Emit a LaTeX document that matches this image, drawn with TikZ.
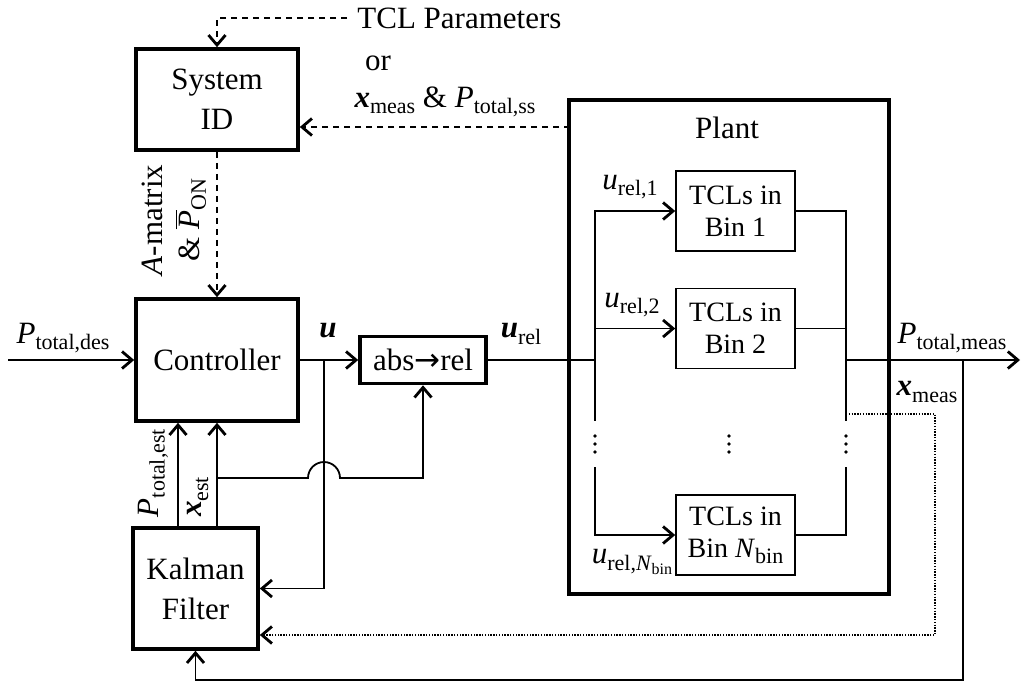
\documentclass[tikz,border=0pt]{standalone}
\usepackage{fontspec}
\setmainfont{Liberation Serif}
\newfontfamily\arrowfont{DejaVu Sans}
\usetikzlibrary{arrows.meta}
\newcommand{\sbs}[1]{\raisebox{-0.45ex}{\fontsize{11}{12}\selectfont #1}}
\newcommand{\bit}[1]{\textbf{\textit{#1}}}

\begin{document}
\begin{tikzpicture}[x=0.5pt,y=-0.5pt,font=\fontsize{15.5}{20}\selectfont]
	\tikzstyle{block} = [draw=black,line width=1.8pt,align=center,inner sep=0pt]
	\tikzstyle{bin} = [draw=black,line width=0.8pt,align=center,inner sep=0pt,minimum width=59.5pt,minimum height=40pt,font=\fontsize{14}{16}\selectfont]
	\tikzstyle{lbl} = [inner sep=0pt]
	\tikzstyle{wire} = [line width=0.9pt]
	\tikzstyle{arr} = [wire,-{Straight Barb[length=5pt,width=8.5pt,line width=1.4pt]}]
	\tikzstyle{dasharr} = [arr,dash pattern=on 3pt off 2.5pt]
	\tikzstyle{dotarr} = [arr,dash pattern=on 0.7pt off 0.7pt]
	\useasboundingbox (0,0) rectangle (1021,681);
	\node[block,minimum width=81pt,minimum height=50.5pt] (sysid) at (217,99.5) {System\\ID};
	\node[block,minimum width=81pt,minimum height=61pt] (ctrl) at (217,360) {Controller};
	\node[block,minimum width=62.5pt,minimum height=60.5pt] (kalman) at (195.5,588.5) {Kalman\\Filter};
	\node[block,minimum width=63pt,minimum height=23.5pt] (absrel) at (423,360) {abs{\arrowfont →}rel};
	\node[block,minimum width=160pt,minimum height=247pt] (plant) at (729,347) {};
	\node[lbl] (planttxt) at (727,128) {Plant};
	\node[bin] (bin1) at (735.5,211) {TCLs in\\Bin 1};
	\node[bin] (bin2) at (735.5,328.5) {TCLs in\\Bin 2};
	\node[bin] (binN) at (735.5,535) {TCLs in\\Bin \textit{N}\sbs{bin}};
	\fill (595,436) circle (0.9pt) (595,444) circle (0.9pt) (595,452) circle (0.9pt);
	\fill (729,436) circle (0.9pt) (729,444) circle (0.9pt) (729,452) circle (0.9pt);
	\fill (846,436) circle (0.9pt) (846,444) circle (0.9pt) (846,452) circle (0.9pt);
	\node[lbl,anchor=west,inner xsep=5pt] (tcltxt) at (347,18) {TCL Parameters};
	\node[lbl] (ortxt) at (378,63) {or};
	\node[lbl] (meastxt) at (445,102) {\bit{x}\sbs{meas} \& \textit{P}\sbs{total,ss}};
	\node[lbl,rotate=90,align=center,font=\fontsize{15.5}{18.5}\selectfont] (amat) at (174,220) {\textit{A}-matrix\\\& $\overline{\mbox{\textit{P}}}$\sbs{ON}};
	\node[lbl] (pdes) at (63,338) {\textit{P}\sbs{total,des}};
	\node[lbl] (ulbl) at (328,331) {\bit{u}};
	\node[lbl] (urel) at (521,334) {\bit{u}\sbs{rel}};
	\node[lbl] (pmeas) at (952,338) {\textit{P}\sbs{total,meas}};
	\node[lbl] (xmeas) at (927,392) {\bit{x}\sbs{meas}};
	\node[lbl,rotate=90] (pest) at (153,473) {\textit{P}\sbs{total,est}};
	\node[lbl,rotate=90] (xestl) at (198,497) {\bit{x}\sbs{est}};
	\node[lbl] (urel1) at (630,187) {\textit{u}\sbs{rel,1}};
	\node[lbl] (urel2) at (632,305) {\textit{u}\sbs{rel,2}};
	\node[lbl] (urelN) at (632,562) {\textit{u}\sbs{rel,\textit{N}\raisebox{-0.4ex}{\fontsize{8}{9}\selectfont bin}}};
	\coordinate (pin) at (8,360);
	\coordinate (ujoin) at (324,360);
	\coordinate (pestx) at (178,0);
	\coordinate (xest) at (217,478);
	\coordinate (hop) at (308,478);
	\coordinate (lsplit) at (595,360);
	\coordinate (rsplit) at (846,360);
	\coordinate (lgapa) at (595,421);
	\coordinate (lgapb) at (595,467);
	\coordinate (rgapa) at (846,421);
	\coordinate (rgapb) at (846,467);
	\coordinate (pout) at (1020,360);
	\coordinate (fbsplit) at (963,360);
	\coordinate (fbbot) at (963,680);
	\coordinate (dotsrc) at (846,414);
	\coordinate (dotbot) at (935,635);
	\coordinate (idsrc) at (570,127);
	\draw[arr] (pin) -- (ctrl.west);
	\draw[arr] (ctrl.east) -- (absrel.west);
	\draw[arr] (ujoin) |- (kalman.east);
	\draw[arr] (pestx |- kalman.north) -- (pestx |- ctrl.south);
	\draw[arr] (ctrl.south |- kalman.north) -- (ctrl.south);
	\draw[arr] (xest) -- (hop) arc[start angle=180,end angle=0,radius=8pt] -| (absrel.south);
	\draw[wire] (absrel.east) -- (lsplit);
	\draw[arr] (lsplit) |- (bin1.west);
	\draw[arr] (lsplit) |- (bin2.west);
	\draw[wire] (lsplit) -- (lgapa);
	\draw[arr] (lgapb) |- (binN.west);
	\draw[wire] (bin1.east) -| (rsplit);
	\draw[wire] (bin2.east) -| (rsplit);
	\draw[wire] (rsplit) -- (rgapa);
	\draw[wire] (binN.east) -| (rgapb);
	\draw[arr] (rsplit) -- (pout);
	\draw[arr] (fbsplit) -- (fbbot) -| (kalman.south);
	\draw[dotarr] (dotsrc) -| (dotbot) -- (kalman.east |- dotbot);
	\draw[dasharr] (idsrc) -- (sysid.east |- idsrc);
	\draw[dasharr] (tcltxt.west) -| (sysid.north);
	\draw[dasharr] (sysid.south) -- (ctrl.north);
\end{tikzpicture}
\end{document}
